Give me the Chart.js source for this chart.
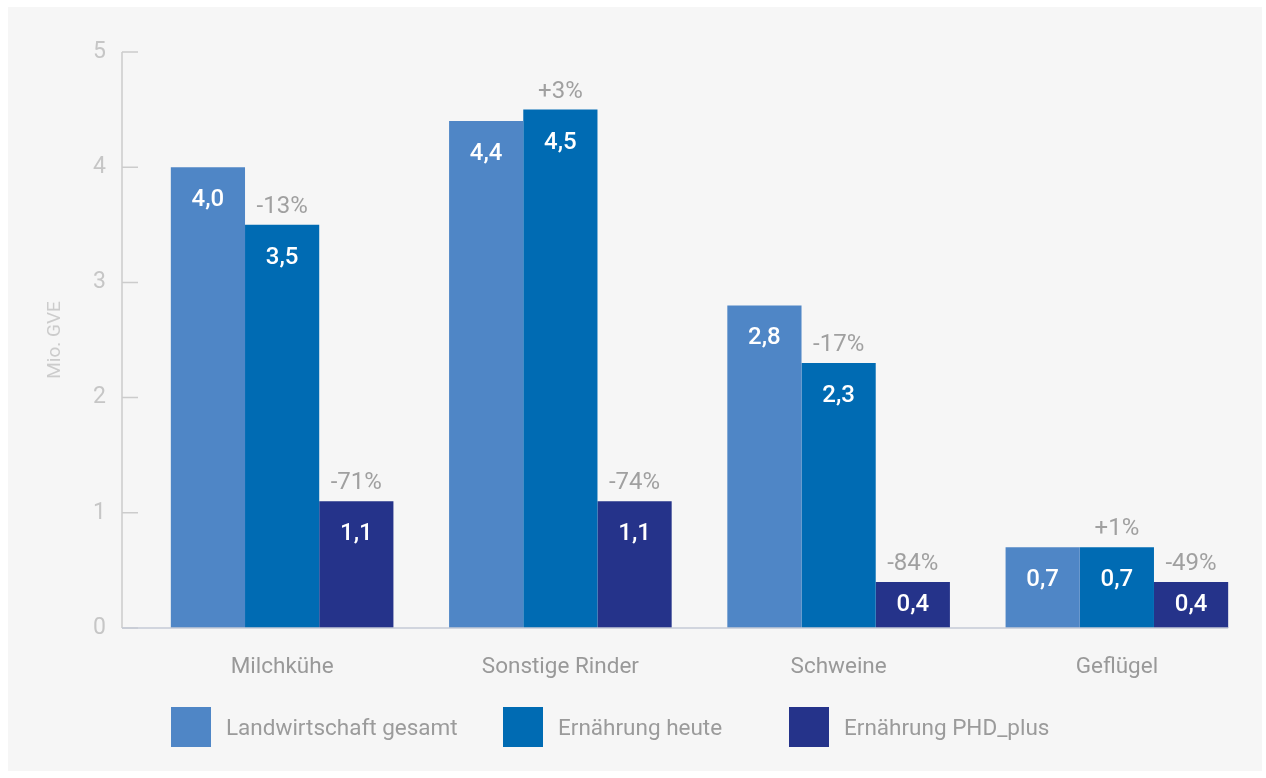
<!DOCTYPE html>
<html>
<head>
<meta charset="utf-8">
<script src="https://cdn.jsdelivr.net/npm/chart.js@4/dist/chart.umd.min.js"></script>
<style>
  body { margin: 0; background: #fff; font-family: Roboto, sans-serif; }
  #wrap { position: relative; width: 1266px; height: 778px; }
  #panel { position: absolute; left: 8px; top: 7px; width: 1254px; height: 764px; background: #f6f6f6; }
  #chart { position: absolute; left: 0; top: 0; }
  .lg { position: absolute; top: 707px; height: 40px; display: flex; align-items: center; }
  .lg span.box { width: 40px; height: 40px; display: inline-block; }
  .lg span.txt { margin-left: 15px; font-size: 22.5px; color: #9b9b9b; }
</style>
</head>
<body>
<div id="wrap">
  <div id="panel"></div>
  <canvas id="chart" width="1266" height="778"></canvas>
</div>
<script>
var categories = ['Milchkühe', 'Sonstige Rinder', 'Schweine', 'Geflügel'];
var seriesNames = ['Landwirtschaft gesamt', 'Ernährung heute', 'Ernährung PHD_plus'];
var landwirtschaft = [4.0, 4.4, 2.8, 0.7];
var heute = [3.5, 4.5, 2.3, 0.7];
var phdPlus = [1.1, 1.1, 0.4, 0.4];
var heuteChange = ['-13%', '+3%', '-17%', '+1%'];
var phdChange = ['-71%', '-74%', '-84%', '-49%'];
var yTicks = [0, 1, 2, 3, 4, 5];
var colors = ['#4f86c6', '#006bb3', '#25338a'];
var legendX = [171, 503, 789];

var gray = '#a0a0a0';

// legend as html
seriesNames.forEach(function (name, i) {
  var d = document.createElement('div');
  d.className = 'lg';
  d.style.left = legendX[i] + 'px';
  d.innerHTML = '<span class="box" style="background:' + colors[i] + '"></span><span class="txt">' + name + '</span>';
  document.getElementById('wrap').appendChild(d);
});

var axisPlugin = {
  id: 'axisPlugin',
  afterDatasetsDraw: function (chart) {
    var ctx = chart.ctx;
    var y = chart.scales.y;
    var area = chart.chartArea;
    var x0 = area.left - 21;
    var lastMeta = chart.getDatasetMeta(chart.data.datasets.length - 1);
    var lastBar = lastMeta.data[lastMeta.data.length - 1];
    var xEnd = lastBar.x + lastBar.width / 2;
    ctx.save();
    ctx.strokeStyle = '#cccccc';
    ctx.lineWidth = 1.5;
    ctx.beginPath();
    ctx.moveTo(x0, y.getPixelForValue(5));
    ctx.lineTo(x0, y.getPixelForValue(0));
    yTicks.forEach(function (v) {
      var py = y.getPixelForValue(v);
      ctx.moveTo(x0, py);
      ctx.lineTo(x0 + 16, py);
    });
    ctx.stroke();
    ctx.strokeStyle = '#c4cad6';
    ctx.beginPath();
    ctx.moveTo(x0, y.getPixelForValue(0));
    ctx.lineTo(xEnd, y.getPixelForValue(0));
    ctx.stroke();

    // value labels and change labels
    ctx.textAlign = 'center';
    ctx.textBaseline = 'middle';
    chart.data.datasets.forEach(function (ds, di) {
      var meta = chart.getDatasetMeta(di);
      meta.data.forEach(function (bar, i) {
        var top = bar.y, base = bar.base;
        var ly = Math.min(top + 33, (top + base) / 2);
        ctx.fillStyle = '#ffffff';
        ctx.font = '500 24px Roboto, sans-serif';
        ctx.fillText(ds.data[i].toFixed(1).replace('.', ','), bar.x, ly);
        var change = di === 1 ? heuteChange[i] : di === 2 ? phdChange[i] : null;
        if (change) {
          ctx.fillStyle = gray;
          ctx.font = '24px Roboto, sans-serif';
          ctx.fillText(change, bar.x, top - 18);
        }
      });
    });
    ctx.restore();
  }
};

new Chart(document.getElementById('chart'), {
  type: 'bar',
  data: {
    labels: categories,
    datasets: [
      { label: seriesNames[0], data: landwirtschaft, backgroundColor: colors[0] },
      { label: seriesNames[1], data: heute, backgroundColor: colors[1] },
      { label: seriesNames[2], data: phdPlus, backgroundColor: colors[2] }
    ]
  },
  options: {
    responsive: false,
    animation: false,
    events: [],
    layout: { padding: { top: 52, right: 10, left: 0, bottom: 0 } },
    datasets: { bar: { categoryPercentage: 0.8, barPercentage: 1.0 } },
    plugins: { legend: { display: false }, tooltip: { enabled: false } },
    scales: {
      x: {
        grid: { display: false },
        border: { display: false },
        ticks: { color: '#999999', font: { size: 22.5, family: 'Roboto' }, padding: 18 },
        afterFit: function (s) { s.height = 150; }
      },
      y: {
        min: 0,
        max: 5,
        ticks: { stepSize: 1, color: '#c6c6c6', font: { size: 23, family: 'Roboto' }, padding: 37 },
        grid: { display: false, drawTicks: false },
        border: { display: false },
        title: { display: true, text: 'Mio. GVE', color: '#cccccc', font: { size: 19, family: 'Roboto' }, padding: { top: 44 } },
        afterFit: function (s) { s.width = 143; }
      }
    }
  },
  plugins: [axisPlugin]
});
</script>
</body>
</html>
